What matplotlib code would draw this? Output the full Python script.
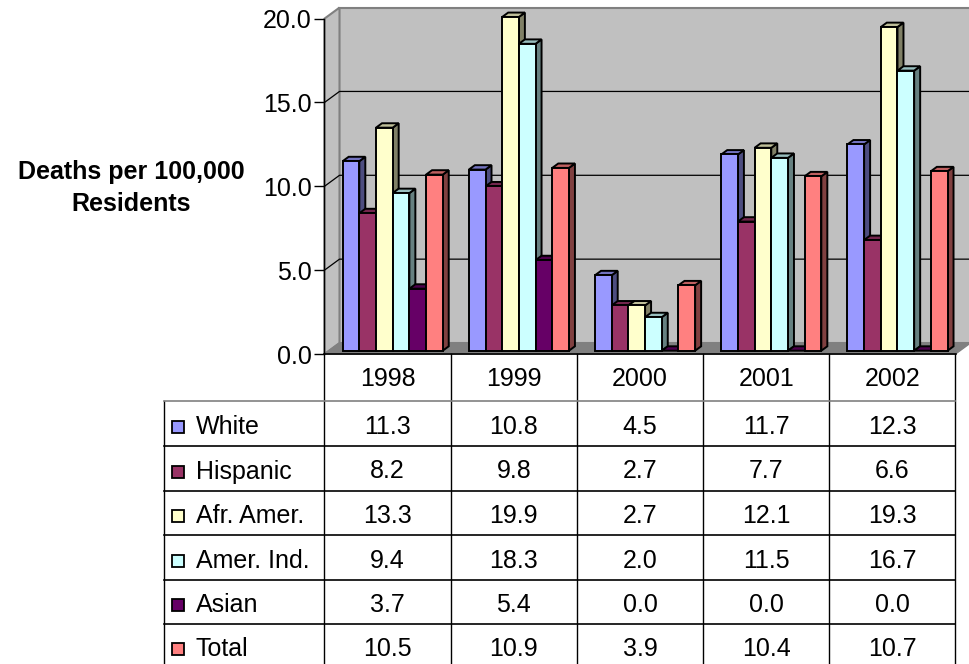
import matplotlib
matplotlib.use('Agg')
import matplotlib.pyplot as plt
from matplotlib.patches import Polygon, Rectangle
import numpy as np

# ---------------- data ----------------
years = ['1998', '1999', '2000', '2001', '2002']
series = ['White', 'Hispanic', 'Afr. Amer.', 'Amer. Ind.', 'Asian', 'Total']
white = [11.3, 10.8, 4.5, 11.7, 12.3]
hispanic = [8.2, 9.8, 2.7, 7.7, 6.6]
afr_amer = [13.3, 19.9, 2.7, 12.1, 19.3]
amer_ind = [9.4, 18.3, 2.0, 11.5, 16.7]
asian = [3.7, 5.4, 0.0, 0.0, 0.0]
total = [10.5, 10.9, 3.9, 10.4, 10.7]
yticks = [0, 5, 10, 15, 20]
ylabel = 'Deaths per 100,000\nResidents'

values = [white, hispanic, afr_amer, amer_ind, asian, total]
colors = ['#9999FF', '#993366', '#FFFFCC', '#CCFFFF', '#660066', '#FF8080']

plt.rcParams['font.family'] = ['Liberation Sans', 'DejaVu Sans']
FS = 18

W, H = 970, 664
X0, X1 = 324.5, 955.5
Y0, Y20 = 354.0, 18.6
DX, DY = 15.0, 11.0
F0, F1 = 0.3, 0.7

fig = plt.figure(figsize=(W / 100, H / 100), dpi=100)
fig.patch.set_facecolor('white')

ax = fig.add_axes([X0 / W, 1 - Y0 / H, (X1 - X0) / W, (Y0 - Y20) / H])
ncat = len(years)
ax.set_xlim(0, ncat)
ax.set_ylim(0, 20)
ax.patch.set_visible(False)
ux = ncat / (X1 - X0)
uy = 20 / (Y0 - Y20)
ddx, ddy = DX * ux, DY * uy
ymax = yticks[-1]

def shade(c, f):
    c = np.array(matplotlib.colors.to_rgb(c))
    return tuple(c * f)

# walls
ax.add_patch(Polygon([(ddx, ddy), (ncat + ddx, ddy), (ncat + ddx, ymax + ddy), (ddx, ymax + ddy)],
                     closed=True, fc='#C0C0C0', ec='#808080', lw=1.5, clip_on=False, zorder=0))
ax.add_patch(Polygon([(0, 0), (ddx, ddy), (ddx, ymax + ddy), (0, ymax)],
                     closed=True, fc='#C0C0C0', ec='#808080', lw=1.5, clip_on=False, zorder=0))
ax.add_patch(Polygon([(0, 0), (ncat, 0), (ncat + ddx, ddy), (ddx, ddy)],
                     closed=True, fc='#808080', ec='#808080', lw=1, clip_on=False, zorder=0.5))
for v in yticks[1:-1]:
    ax.plot([0, ddx, ncat + ddx], [v, v + ddy, v + ddy], color='black', lw=0.9,
            clip_on=False, zorder=0.6)

# bars
bw = 0.1322
start = 0.108
d1x, d1y = (F1 - F0) * ddx, (F1 - F0) * ddy
for j in range(ncat):
    for i, vals in enumerate(values):
        v = vals[j]
        xl = j + start + i * bw + F0 * ddx
        xr = xl + bw
        yb = F0 * ddy
        yt = yb + v
        z = 2 + j * 0.1 + i * 0.01
        kw = dict(ec='black', lw=1.4, clip_on=False, zorder=z, joinstyle='miter')
        ax.add_patch(Polygon([(xr, yb), (xr + d1x, yb + d1y), (xr + d1x, yt + d1y), (xr, yt)],
                             closed=True, fc=shade(colors[i], 0.5), **kw))
        ax.add_patch(Polygon([(xl, yt), (xr, yt), (xr + d1x, yt + d1y), (xl + d1x, yt + d1y)],
                             closed=True, fc=shade(colors[i], 0.75), **kw))
        if v > 0:
            ax.add_patch(Rectangle((xl, yb), bw, v, fc=colors[i], **kw))

# axes styling
ax.set_xticks([])
ax.set_yticks(yticks)
ax.set_yticklabels([f'{v:.1f}' for v in yticks], fontsize=FS)
ax.tick_params(axis='y', direction='out', length=7, width=1, pad=2, colors='black')
for s in ['top', 'right']:
    ax.spines[s].set_visible(False)
ax.spines['left'].set_color('black')
ax.spines['left'].set_linewidth(1)
ax.spines['bottom'].set_color('black')
ax.spines['bottom'].set_linewidth(1.2)
ax.spines['left'].set_zorder(1)

fig.text(131 / W, 1 - 188 / H, ylabel, ha='center', va='center', fontsize=FS,
         fontweight='bold', linespacing=1.45)

# data table
tab = fig.add_axes([0, 0, 1, 1], zorder=5)
tab.set_xlim(0, W)
tab.set_ylim(H, 0)
tab.axis('off')
tab.patch.set_visible(False)

cw = (X1 - X0) / ncat
LX = 164
rows_y = [401, 446, 491, 535, 580, 624, 668]
# vertical lines
for k in range(ncat + 1):
    x = X0 + cw * k
    tab.plot([x, x], [Y0, H + 2], color='black', lw=1, clip_on=False)
tab.plot([LX, LX], [rows_y[0], H + 2], color='black', lw=1, clip_on=False)
for r, y in enumerate(rows_y[:-1]):
    tab.plot([LX, X1], [y, y], color='#808080' if r == 0 else 'black', lw=1.2)

# header
for j, yr in enumerate(years):
    tab.text(X0 + cw * (j + 0.5), (Y0 + rows_y[0]) / 2 + 2, yr, ha='center', va='center', fontsize=FS)
for i, name in enumerate(series):
    yc = (rows_y[i] + rows_y[i + 1]) / 2 + 3
    tab.add_patch(Rectangle((172, yc - 6), 12, 12, fc=colors[i], ec='black', lw=1.3))
    tab.text(196, yc, name, ha='left', va='center', fontsize=FS)
    for j in range(ncat):
        tab.text(X0 + cw * (j + 0.5), yc, f'{values[i][j]:.1f}', ha='center', va='center', fontsize=FS)

fig.savefig('out.png', dpi=100, facecolor='white')
